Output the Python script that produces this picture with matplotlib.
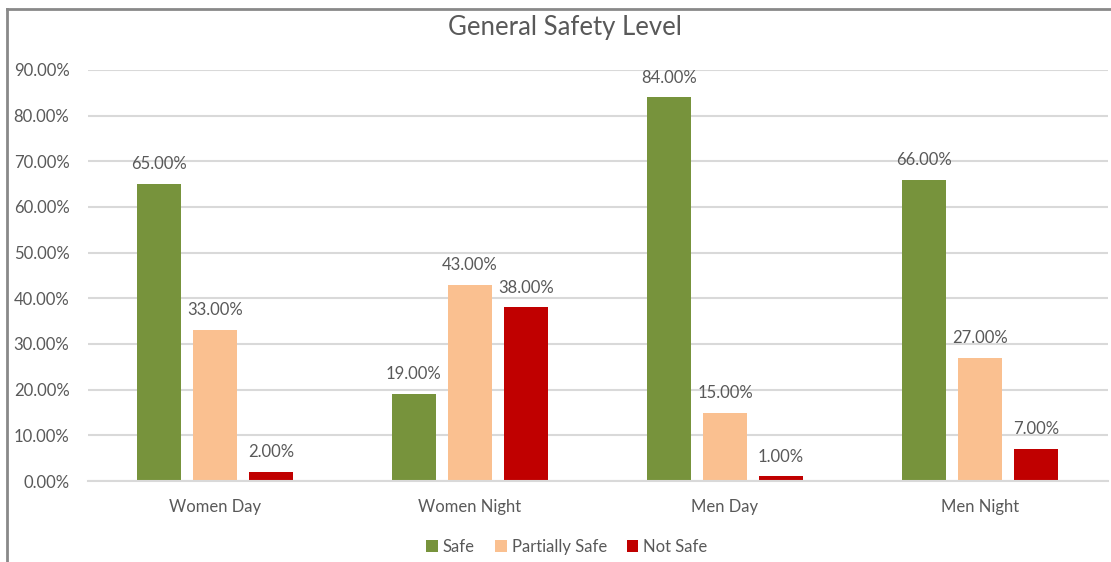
import matplotlib.pyplot as plt
from matplotlib.lines import Line2D
import numpy as np

plt.rcParams['font.family'] = ['Lato', 'DejaVu Sans']

categories = ['Women Day', 'Women Night', 'Men Day', 'Men Night']
safe = [65, 19, 84, 66]
partially_safe = [33, 43, 15, 27]
not_safe = [2, 38, 1, 7]

series = [('Safe', safe, '#77933C'),
          ('Partially Safe', partially_safe, '#FAC090'),
          ('Not Safe', not_safe, '#C00000')]

W, H = 1111, 562
fig = plt.figure(figsize=(W / 100, H / 100), dpi=100)
ax = fig.add_axes([87.5 / W, 1 - 481 / H, 1020 / W, 411 / H])

txt = '#595959'
x = np.arange(len(categories))
bw = 0.173
step = 0.22
for i, (name, vals, col) in enumerate(series):
    pos = x + (i - 1) * step
    bars = ax.bar(pos, [v / 100 for v in vals], bw, color=col, label=name, zorder=3)
    for b, v in zip(bars, vals):
        ax.text(b.get_x() + b.get_width() / 2, b.get_height() + 0.026, '%.2f%%' % v,
                ha='center', va='bottom', fontsize=12, color=txt)

ax.set_xlim(-0.5, 3.5)
ax.set_ylim(0, 0.9)
ax.set_yticks(np.arange(0, 0.91, 0.1))
ax.set_yticklabels(['%.2f%%' % (t * 100) for t in np.arange(0, 0.91, 0.1)])
ax.set_xticks(x)
ax.set_xticklabels(categories)
ax.tick_params(axis='both', length=0, labelsize=12, colors=txt)
ax.tick_params(axis='y', pad=13)
ax.tick_params(axis='x', pad=13)
ax.yaxis.grid(True, color='#D9D9D9', linewidth=1.5, zorder=0)
for s in ['top', 'right', 'left']:
    ax.spines[s].set_visible(False)
ax.spines['bottom'].set_color('#D9D9D9')
ax.spines['bottom'].set_linewidth(1.5)
ax.spines['bottom'].set_zorder(4)

fig.text(565 / W, 1 - 28 / H, 'General Safety Level', ha='center', va='center',
         fontsize=18.5, color=txt)

fig.legend(loc='center', bbox_to_anchor=(567 / W, 1 - 547 / H), ncol=3, frameon=False,
           fontsize=12, handlelength=0.7, handleheight=0.7, handletextpad=0.3,
           columnspacing=1.2, labelcolor=txt)

# chart border (top and left only, as in the source)
fig.add_artist(Line2D([7 / W, 7 / W], [0, 1 - 9 / H], color='#898989', linewidth=2))
fig.add_artist(Line2D([7 / W, 1], [1 - 9 / H, 1 - 9 / H], color='#898989', linewidth=2))

fig.savefig('out.png', dpi=100)
